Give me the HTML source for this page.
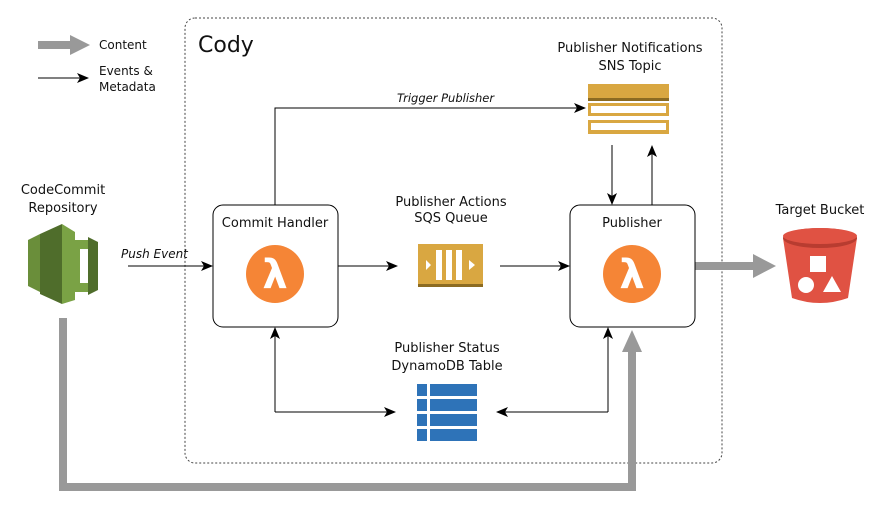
<!DOCTYPE html>
<html><head><meta charset="utf-8"><style>body{margin:0;background:#fff}text{font-family:"DejaVu Sans","Liberation Sans",sans-serif;fill:#111}</style></head>
<body>
<svg width="888" height="515" viewBox="0 0 888 515" xmlns="http://www.w3.org/2000/svg">
<defs>
<marker id="a" markerWidth="12" markerHeight="10" refX="11" refY="5" orient="auto" markerUnits="userSpaceOnUse"><path d="M0,0 L12,5 L0,10 L3,5z" fill="#000"/></marker>
</defs>
<rect x="185" y="18" width="537" height="445" rx="10" fill="none" stroke="#444" stroke-dasharray="2,2"/>
<text x="198" y="52" font-size="22">Cody</text>
<path d="M38,45 H72" stroke="#999" stroke-width="8"/><path d="M70,35 L90,45 L70,55z" fill="#999"/>
<text x="99" y="49" font-size="12">Content</text>
<path d="M38,78 H88" stroke="#000" marker-end="url(#a)"/>
<text x="99" y="75" font-size="12">Events &amp;</text><text x="99" y="91" font-size="12">Metadata</text>
<path d="M63,318 V487 H632 V350" fill="none" stroke="#999" stroke-width="8"/>
<path d="M622,352 L632,330 L642,352z" fill="#999"/>
<path d="M695,266 H755" stroke="#999" stroke-width="8"/><path d="M753,254 L776,266 L753,278z" fill="#999"/>
<path d="M128,266 H212" stroke="#000" marker-end="url(#a)"/>
<text x="121" y="258" font-size="12" font-style="italic">Push Event</text>
<path d="M338,266 H397" stroke="#000" marker-end="url(#a)"/>
<path d="M500,266 H569" stroke="#000" marker-end="url(#a)"/>
<path d="M275,205 V108 H585" fill="none" stroke="#000" marker-end="url(#a)"/>
<text x="397" y="102" font-size="11.5" font-style="italic">Trigger Publisher</text>
<path d="M612,145 V204" stroke="#000" marker-end="url(#a)"/>
<path d="M652,205 V146" stroke="#000" marker-end="url(#a)"/>
<path d="M275,412 V328" fill="none" stroke="#000" marker-end="url(#a)"/>
<path d="M275,412 H395" stroke="#000" marker-end="url(#a)"/>
<path d="M608,412 V328" fill="none" stroke="#000" marker-end="url(#a)"/>
<path d="M608,412 H497" stroke="#000" marker-end="url(#a)"/>
<rect x="213" y="205" width="125" height="122" rx="10" fill="#fff" stroke="#000"/>
<text x="275" y="227" font-size="13" text-anchor="middle">Commit Handler</text>
<circle cx="275" cy="274" r="29" fill="#f58536"/>
<text x="275" y="288" font-size="40" font-weight="bold" text-anchor="middle" style="fill:#fff">λ</text>
<rect x="570" y="205" width="125" height="122" rx="10" fill="#fff" stroke="#000"/>
<text x="632" y="227" font-size="13" text-anchor="middle">Publisher</text>
<circle cx="632" cy="274" r="29" fill="#f58536"/>
<text x="632" y="288" font-size="40" font-weight="bold" text-anchor="middle" style="fill:#fff">λ</text>
<text x="63" y="194" font-size="13" text-anchor="middle">CodeCommit</text>
<text x="63" y="212" font-size="13" text-anchor="middle">Repository</text>
<text x="451" y="206" font-size="13" text-anchor="middle">Publisher Actions</text>
<text x="451" y="222" font-size="13" text-anchor="middle">SQS Queue</text>
<text x="630" y="52" font-size="13" text-anchor="middle">Publisher Notifications</text>
<text x="630" y="70" font-size="13" text-anchor="middle">SNS Topic</text>
<text x="447" y="352" font-size="13" text-anchor="middle">Publisher Status</text>
<text x="447" y="370" font-size="13" text-anchor="middle">DynamoDB Table</text>
<text x="820" y="214" font-size="13" text-anchor="middle">Target Bucket</text>
<rect x="588" y="84" width="81" height="16" fill="#d9a741"/><rect x="588" y="98" width="81" height="3" fill="#8c6b22"/>
<rect x="588" y="103" width="81" height="13" fill="#d9a741"/><rect x="591" y="106" width="75" height="7" fill="#fff"/>
<rect x="588" y="120" width="81" height="14" fill="#d9a741"/><rect x="591" y="123" width="75" height="7" fill="#fff"/>
<rect x="418" y="244" width="65" height="43" fill="#d9a741"/><rect x="418" y="284" width="65" height="3" fill="#8c6b22"/>
<rect x="436" y="250" width="6" height="30" fill="#fff"/><rect x="446" y="250" width="6" height="30" fill="#fff"/><rect x="456" y="250" width="6" height="30" fill="#fff"/>
<path d="M426,260 L431,265 L426,270z M469,260 L475,265 L469,270z" fill="#fff"/>
<g fill="#2e73b8">
<rect x="417" y="384" width="10" height="12"/><rect x="430" y="384" width="47" height="12"/>
<rect x="417" y="399" width="10" height="12"/><rect x="430" y="399" width="47" height="12"/>
<rect x="417" y="414" width="10" height="12"/><rect x="430" y="414" width="47" height="12"/>
<rect x="417" y="429" width="10" height="12"/><rect x="430" y="429" width="47" height="12"/>
</g>
<path d="M28,240 L40,234 V292 L28,286z" fill="#6a8e3a"/>
<path d="M40,234 L62,224 V304 L40,294z" fill="#4f6d2b"/>
<path d="M62,224 L75,232 V300 L62,304z" fill="#7aa245"/>
<path d="M75,240 H90 V292 H75z" fill="#7aa245"/>
<path d="M80,249 H88 V283 H80z" fill="#fff"/>
<path d="M88,237 L98,242 V290 L88,295z" fill="#4f6d2b"/>
<path d="M783,238 L792,298 Q820,308 848,298 L857,238z" fill="#e05243"/>
<ellipse cx="820" cy="238" rx="37" ry="10" fill="#b83c30"/>
<ellipse cx="820" cy="236" rx="37" ry="8" fill="#e05243"/>
<rect x="810" y="256" width="16" height="16" fill="#fff"/>
<circle cx="806" cy="285" r="8" fill="#fff"/>
<path d="M832,276 L841,292 L823,292z" fill="#fff"/>
</svg>
</body></html>
